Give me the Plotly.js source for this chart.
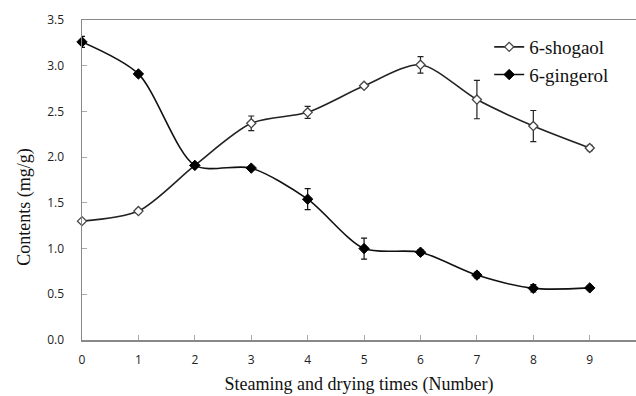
<!DOCTYPE html>
<html>
<head>
<meta charset="utf-8">
<script src="https://cdn.plot.ly/plotly-3.0.1.min.js"></script>
<style>html,body{margin:0;padding:0;background:#fff;}#chart{width:636px;height:396px;}</style>
</head>
<body>
<div id="chart"></div>
<script>
const times = [0, 1, 2, 3, 4, 5, 6, 7, 8, 9];
const shogaol = [1.30, 1.41, 1.91, 2.37, 2.49, 2.78, 3.01, 2.63, 2.34, 2.10];
const shogaolErr = [0.02, 0.02, 0.02, 0.08, 0.065, 0.02, 0.09, 0.21, 0.17, 0.03];
const gingerol = [3.26, 2.91, 1.91, 1.88, 1.54, 1.00, 0.96, 0.71, 0.565, 0.57];
const gingerolErr = [0.06, 0.02, 0.02, 0.02, 0.115, 0.115, 0.03, 0.03, 0.04, 0.02];
const yTicks = [0, 0.5, 1.0, 1.5, 2.0, 2.5, 3.0, 3.5];

const serif = "Liberation Serif, Times New Roman, serif";
const sans = "Open Sans, Noto Sans, sans-serif";

const traces = [
  {
    x: times, y: shogaol, name: '6-shogaol', type: 'scatter', mode: 'lines+markers',
    line: {shape: 'spline', smoothing: 0.8, color: '#222', width: 1.6},
    marker: {symbol: 'diamond', size: 7, color: '#fff', line: {color: '#444', width: 1.3}},
    error_y: {type: 'data', array: shogaolErr, visible: true, color: '#222', thickness: 1.2, width: 3},
    cliponaxis: false
  },
  {
    x: times, y: gingerol, name: '6-gingerol', type: 'scatter', mode: 'lines+markers',
    line: {shape: 'spline', smoothing: 0.8, color: '#111', width: 1.6},
    marker: {symbol: 'diamond', size: 8, color: '#000', line: {color: '#000', width: 1}},
    error_y: {type: 'data', array: gingerolErr, visible: true, color: '#111', thickness: 1.2, width: 3},
    cliponaxis: false
  }
];

const layout = {
  width: 636, height: 396,
  margin: {l: 82, r: 0, t: 20, b: 56},
  paper_bgcolor: '#fff', plot_bgcolor: '#fff',
  showlegend: true,
  legend: {
    x: 0.735, y: 0.975, xanchor: 'left', yanchor: 'top',
    font: {family: serif, size: 19, color: '#111'},
    bgcolor: 'rgba(0,0,0,0)', itemwidth: 30, tracegroupgap: 0
  },
  xaxis: {
    range: [0, 9.82], tickmode: 'array', tickvals: times, ticktext: times.map(String),
    showgrid: false, zeroline: false,
    showline: true, linecolor: '#888', linewidth: 1.5, mirror: true,
    ticks: 'inside', ticklen: 5, tickcolor: '#aaa', tickwidth: 1,
    tickfont: {family: sans, size: 12, color: '#222'},
    ticklabelstandoff: 8,
    title: {text: 'Steaming and drying times (Number)', font: {family: serif, size: 18, color: '#111'}, standoff: 10}
  },
  yaxis: {
    range: [0, 3.5], tickmode: 'array', tickvals: yTicks, ticktext: yTicks.map(v => v.toFixed(1)),
    showgrid: false, zeroline: false,
    showline: true, linecolor: '#888', linewidth: 1.5,
    ticks: 'inside', ticklen: 5, tickcolor: '#aaa', tickwidth: 1,
    tickfont: {family: sans, size: 12, color: '#222'},
    ticklabelstandoff: 14
  },
  annotations: [{
    text: 'Contents (mg/g)', textangle: -90, xref: 'paper', yref: 'paper',
    x: -0.103, y: 0.416, xanchor: 'center', yanchor: 'middle', showarrow: false,
    font: {family: serif, size: 18, color: '#111'}
  }]
};

Plotly.newPlot('chart', traces, layout, {displayModeBar: false, staticPlot: true});
</script>
</body>
</html>
